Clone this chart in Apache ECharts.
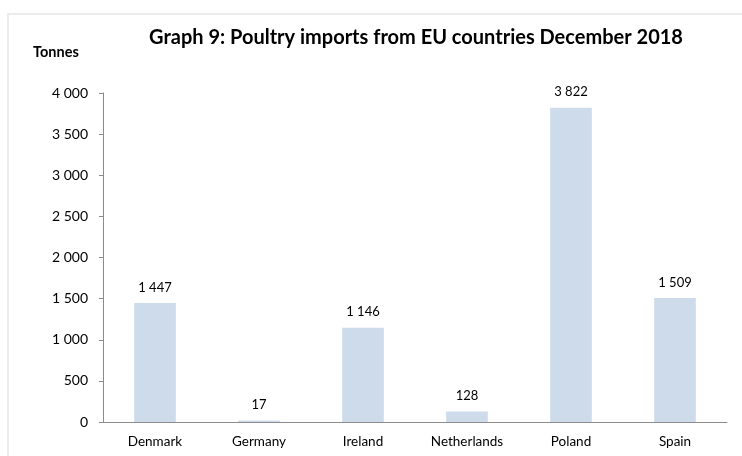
<!DOCTYPE html>
<html><head><meta charset="utf-8">
<script src="https://cdn.jsdelivr.net/npm/echarts@6/dist/echarts.min.js"></script>
<style>html,body{margin:0;padding:0;background:#fff}#c{width:742px;height:456px}
#frame{position:absolute;left:7px;top:13px;right:-10px;bottom:-10px;border:2px solid #ebebeb;pointer-events:none}</style>
</head><body><div id="c"></div><div id="frame"></div>
<script>
const categories = ["Denmark","Germany","Ireland","Netherlands","Poland","Spain"];
const values = [1447, 17, 1146, 128, 3822, 1509];
const titleText = "Graph 9: Poultry imports from EU countries December 2018";
const unitLabel = "Tonnes";
const fmt = v => String(v).replace(/\B(?=(\d{3})+(?!\d))/g, " ");
const FONT = "Lato, 'Open Sans', sans-serif";
const chart = echarts.init(document.getElementById('c'), null, {renderer:'canvas'});
chart.setOption({
  animation:false,
  title:{text:titleText,left:411,textAlign:'center',top:23,
    textStyle:{fontFamily:FONT,fontWeight:'bold',fontSize:20,color:'#000'}},
  graphic:[{type:'text',left:33,top:45,style:{text:unitLabel,font:"bold 14.5px Lato, 'Open Sans', sans-serif",fill:'#000'}}],
  grid:{left:103,right:15,top:93,bottom:34},
  xAxis:{type:'category',data:categories,
    axisLine:{lineStyle:{color:'#8c8c8c',width:1}},axisTick:{show:false},
    axisLabel:{fontFamily:FONT,fontSize:13.5,color:'#000',margin:13}},
  yAxis:{type:'value',min:0,max:4000,interval:500,
    axisLine:{show:true,lineStyle:{color:'#8c8c8c'}},
    axisTick:{show:true,length:4,lineStyle:{color:'#8c8c8c'}},
    splitLine:{show:false},
    axisLabel:{fontFamily:FONT,fontSize:14,color:'#000',margin:15,formatter:fmt}},
  series:[{type:'bar',data:values,barWidth:'40%',
    itemStyle:{color:'#cedbeb'},
    label:{show:true,position:'top',distance:9,fontFamily:FONT,fontSize:13,color:'#000',
      formatter:p=>fmt(p.value)}}]
});
</script></body></html>
